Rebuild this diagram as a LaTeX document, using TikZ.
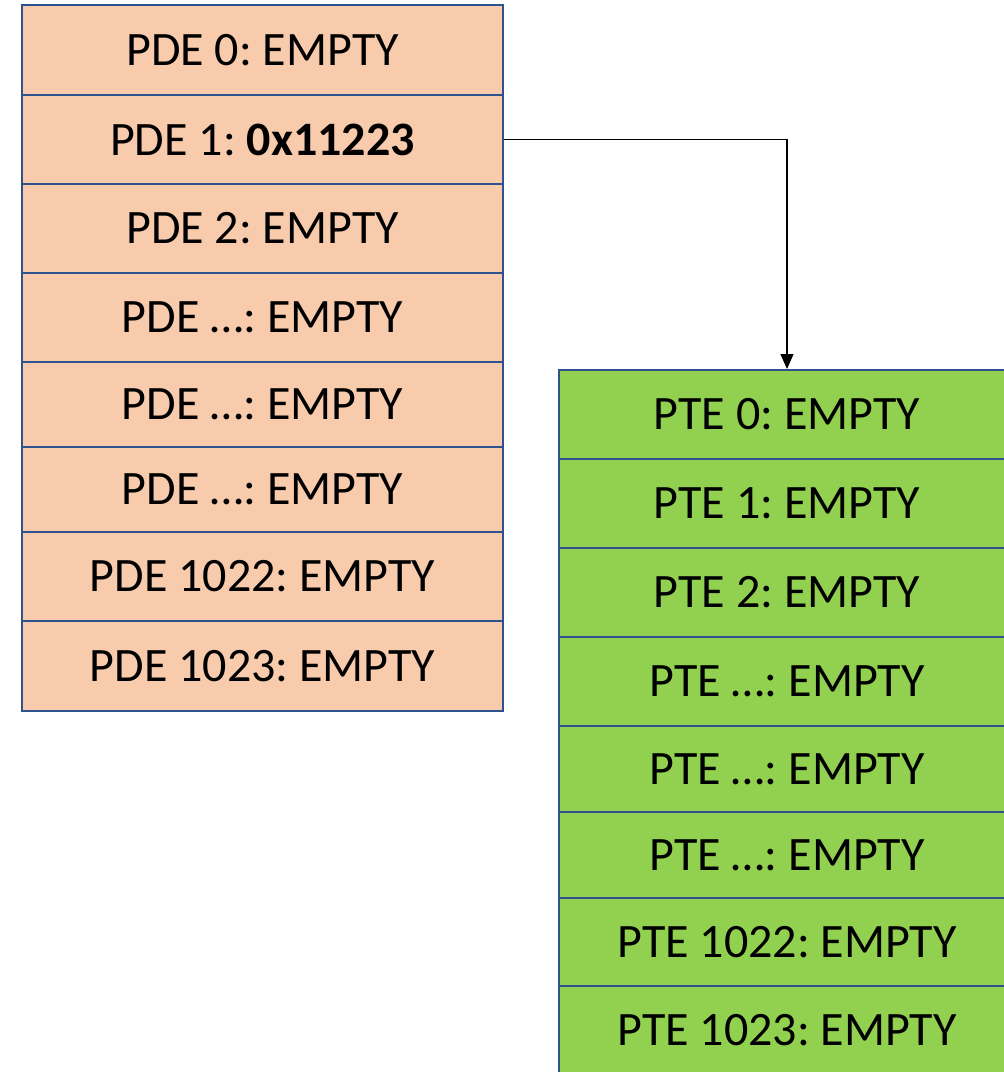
\documentclass[tikz,border=0pt]{standalone}
\usepackage{fontspec}
\setmainfont{Carlito}
\usetikzlibrary{arrows.meta}
\definecolor{bordercol}{HTML}{2F528F}
\definecolor{pdefill}{HTML}{F8CBAD}
\definecolor{ptefill}{HTML}{92D050}
\frenchspacing
\begin{document}
\begin{tikzpicture}[x=1pt,y=-1pt,
  cell/.style={draw=bordercol, line width=2pt, anchor=north west, inner sep=0pt,
    font=\fontsize{48}{52}\selectfont},
  pde/.style={cell, fill=pdefill, minimum width=481pt},
  pte/.style={cell, fill=ptefill, minimum width=456pt},
  link/.style={draw=black, line width=1.3pt, -{Triangle[length=15pt,width=13pt]}}
]
\useasboundingbox (0,0) rectangle (1004,1072);
\clip (0,0) rectangle (1004,1072);

% page directory
\node[pde, minimum height=90pt] (pde0)    at (21,4)   {PDE 0: EMPTY};
\node[pde, minimum height=89pt] (pde1)    at (21,94)  {PDE 1: \textbf{0x11223}};
\node[pde, minimum height=89pt] (pde2)    at (21,183) {PDE 2: EMPTY};
\node[pde, minimum height=89pt] (pdea)    at (21,272) {PDE …: EMPTY};
\node[pde, minimum height=85pt] (pdeb)    at (21,361) {PDE …: EMPTY};
\node[pde, minimum height=85pt] (pdec)    at (21,446) {PDE …: EMPTY};
\node[pde, minimum height=89pt] (pde1022) at (21,531) {PDE 1022: EMPTY};
\node[pde, minimum height=90pt] (pde1023) at (21,620) {PDE 1023: EMPTY};

% page table
\node[pte, minimum height=89pt] (pte0)    at (558,369) {PTE 0: EMPTY};
\node[pte, minimum height=89pt] (pte1)    at (558,458) {PTE 1: EMPTY};
\node[pte, minimum height=89pt] (pte2)    at (558,547) {PTE 2: EMPTY};
\node[pte, minimum height=89pt] (ptea)    at (558,636) {PTE …: EMPTY};
\node[pte, minimum height=86pt] (pteb)    at (558,725) {PTE …: EMPTY};
\node[pte, minimum height=86pt] (ptec)    at (558,811) {PTE …: EMPTY};
\node[pte, minimum height=88pt] (pte1022) at (558,897) {PTE 1022: EMPTY};
\node[pte, minimum height=89pt] (pte1023) at (558,985) {PTE 1023: EMPTY};

% directory entry pointing to the page table
\draw[link] (pde1.east) -| (pte0.north);
\end{tikzpicture}
\end{document}
